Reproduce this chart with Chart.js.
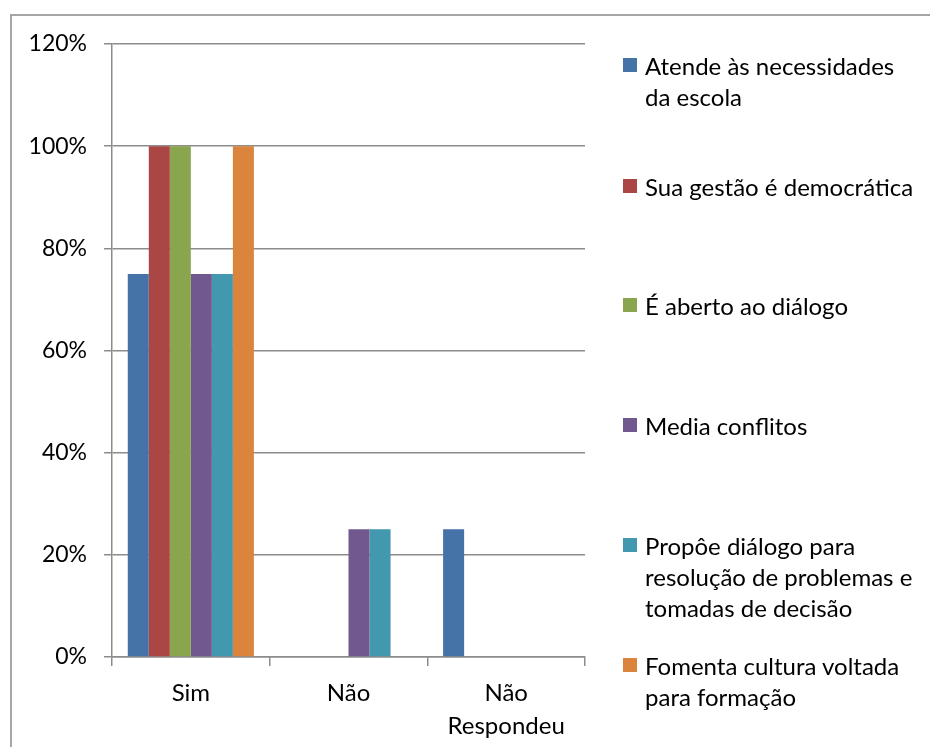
<!DOCTYPE html>
<html>
<head>
<meta charset="utf-8">
<script src="https://cdn.jsdelivr.net/npm/chart.js@4/dist/chart.umd.min.js"></script>
<style>
  body { margin: 0; background: #fff; }
  #wrap { position: relative; width: 930px; height: 747px; overflow: hidden; }
  #frame {
    position: absolute; left: 10px; top: 14px; width: 960px; height: 780px;
    border-left: 2px solid #a6a6a6; border-top: 2px solid #a6a6a6;
  }
  #chart { position: absolute; left: 0; top: 0; }
  #legend { position: absolute; left: 623px; top: 0; font-family: Lato, "Open Sans", sans-serif; font-size: 24px; color: #000; }
  .item { position: absolute; left: 0; display: flex; align-items: flex-start; white-space: pre; line-height: 31px; }
  .box { width: 14px; height: 14px; margin-top: 8px; margin-right: 8px; flex: none; }
</style>
</head>
<body>
<div id="wrap">
  <div id="frame"></div>
  <canvas id="chart" width="930" height="747"></canvas>
  <div id="legend"></div>
</div>
<script>
const categories = ["Sim", "Não", ["Não", "Respondeu"]];

const seriesNames = [
  "Atende às necessidades\nda escola",
  "Sua gestão é democrática",
  "É aberto ao diálogo",
  "Media conflitos",
  "Propôe diálogo para\nresolução de problemas e\ntomadas de decisão",
  "Fomenta cultura voltada\npara formação"
];
const seriesColors = ["#4572A7", "#AA4643", "#89A54E", "#71588F", "#4198AF", "#DB843D"];

// percent per category: Sim, Não, Não Respondeu
const atende = [75, 0, 25];
const gestao = [100, 0, 0];
const aberto = [100, 0, 0];
const media = [75, 25, 0];
const propoe = [75, 25, 0];
const fomenta = [100, 0, 0];
const seriesValues = [atende, gestao, aberto, media, propoe, fomenta];

const yMax = 120;
const yStep = 20;

const axisGray = "#8c8c8c";
const fontFamily = "Lato, 'Open Sans', sans-serif";

const datasets = seriesValues.map((vals, i) => ({
  label: seriesNames[i],
  data: vals,
  backgroundColor: seriesColors[i],
  borderWidth: 0,
  categoryPercentage: 0.8,
  barPercentage: 1.0
}));

new Chart(document.getElementById("chart"), {
  type: "bar",
  data: { labels: categories, datasets: datasets },
  options: {
    responsive: false,
    animation: false,
    layout: { padding: { left: 0, top: 44, right: 345, bottom: 0 } },
    plugins: { legend: { display: false }, tooltip: { enabled: false } },
    scales: {
      x: {
        afterFit: s => { s.height = 90; },
        grid: { display: true, drawOnChartArea: false, drawTicks: true, tickLength: 9, color: axisGray, lineWidth: 1.5 },
        border: { display: true, color: axisGray, width: 1.5 },
        ticks: { color: "#000", font: { family: fontFamily, size: 24, lineHeight: 1.4 }, padding: 10, maxRotation: 0 }
      },
      y: {
        min: 0,
        max: yMax,
        afterFit: s => { s.width = 112; },
        grid: { color: axisGray, lineWidth: 1.5, tickLength: 8 },
        border: { display: true, color: axisGray, width: 1.5 },
        ticks: { stepSize: yStep, color: "#000", font: { family: fontFamily, size: 23 }, padding: 17, callback: v => v + "%" }
      }
    }
  }
});

// legend on the right, one entry per series
const legend = document.getElementById("legend");
const legendTops = [50, 171, 290, 410, 530, 650];
seriesNames.forEach((name, i) => {
  const item = document.createElement("div");
  item.className = "item";
  item.style.top = legendTops[i] + "px";
  const box = document.createElement("span");
  box.className = "box";
  box.style.background = seriesColors[i];
  const text = document.createElement("span");
  text.textContent = name;
  item.appendChild(box);
  item.appendChild(text);
  legend.appendChild(item);
});
</script>
</body>
</html>
